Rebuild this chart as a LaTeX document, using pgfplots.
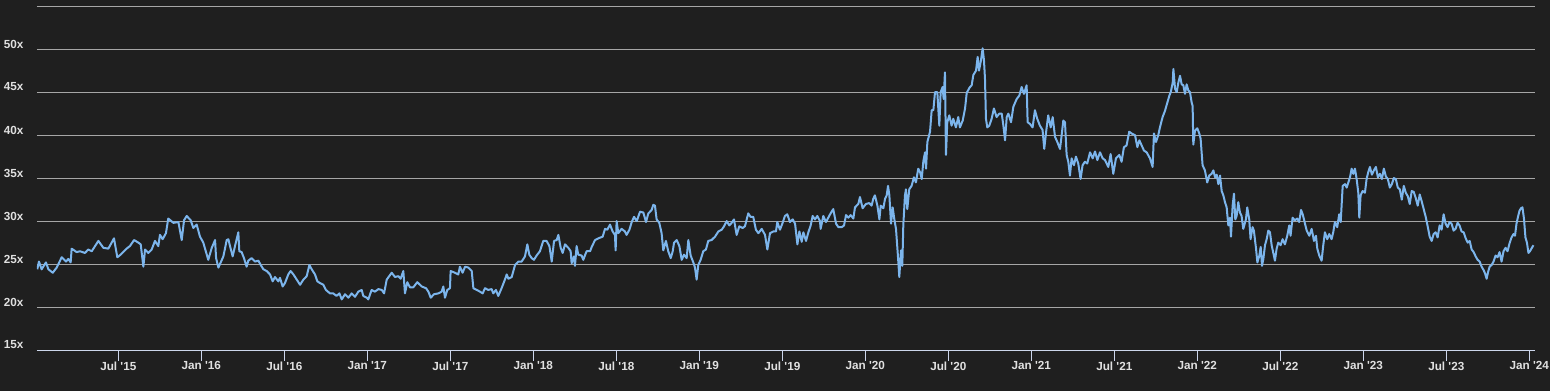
\documentclass[border=0pt]{standalone}
\usepackage{pgfplots}
\pgfplotsset{compat=1.18}
\usepackage{fontspec}
\setmainfont{Liberation Sans}
\definecolor{bg}{HTML}{1F1F1F}
\definecolor{gridc}{HTML}{A6A6A6}
\definecolor{axisc}{HTML}{CCD6EB}
\definecolor{linec}{HTML}{7CB5EC}
\definecolor{txt}{HTML}{E0E0E0}
\begin{document}
\begin{tikzpicture}
\fill[bg, use as bounding box] (-27.75pt,-30pt) rectangle (1134.75pt,263.25pt);
\begin{axis}[
  at={(0,0)}, anchor=south west, scale only axis,
  width=1123.5pt, height=258pt,
  xmin=0.0102, xmax=9.0343, ymin=15, ymax=55,
  axis x line*=bottom, axis y line*=left,
  x axis line style={draw=axisc, line width=0.75pt, -},
  y axis line style={draw=none},
  xtick={0.5,1,1.5,2,2.5,3,3.5,4,4.5,5,5.5,6,6.5,7,7.5,8,8.5,9},
  xticklabels={Jul \textquotesingle15,Jan \textquotesingle16,Jul \textquotesingle16,Jan \textquotesingle17,Jul \textquotesingle17,Jan \textquotesingle18,Jul \textquotesingle18,Jan \textquotesingle19,Jul \textquotesingle19,Jan \textquotesingle20,Jul \textquotesingle20,Jan \textquotesingle21,Jul \textquotesingle21,Jan \textquotesingle22,Jul \textquotesingle22,Jan \textquotesingle23,Jul \textquotesingle23,Jan \textquotesingle24},
  ytick={15,20,25,30,35,40,45,50,55},
  yticklabels={15x,20x,25x,30x,35x,40x,45x,50x,},
  ymajorgrids, grid style={gridc, line width=0.75pt},
  tick align=outside, major tick length=7.5pt,
  xtick style={draw=axisc, line width=0.75pt},
  ytick style={draw=none},
  tick label style={font=\bfseries\fontsize{8.8}{10}\selectfont, text=txt, inner sep=0pt},
  xticklabel style={anchor=north, yshift=-0.4pt},
  yticklabel style={anchor=west, xshift=-17.5pt, yshift=4.5pt},
]
\addplot[linec, line width=1.5pt, line join=round] coordinates {
(0.012,24.5) (0.022,25.4) (0.038,24.5) (0.064,25.3) (0.079,24.5) (0.105,24.1) (0.129,24.7) (0.159,25.9) (0.185,25.4) (0.199,25.7) (0.213,25.3) (0.219,26.9) (0.249,26.5) (0.269,26.6) (0.299,26.4) (0.319,26.8) (0.340,26.6) (0.380,27.8) (0.410,27.0) (0.440,26.9) (0.474,28.1) (0.494,25.9) (0.514,26.2) (0.550,26.9) (0.570,27.2) (0.595,27.9) (0.621,27.6) (0.635,27.4) (0.651,24.8) (0.661,26.8) (0.681,26.4) (0.701,26.8) (0.721,27.8) (0.741,27.2) (0.751,28.5) (0.767,28.0) (0.787,28.7) (0.801,30.4) (0.832,29.9) (0.862,30.0) (0.882,27.9) (0.896,30.2) (0.912,30.7) (0.936,30.2) (0.952,29.3) (0.972,29.7) (0.992,28.3) (1.012,27.6) (1.042,25.6) (1.063,27.0) (1.083,27.9) (1.089,25.8) (1.103,24.7)
(1.133,26.0) (1.153,27.9) (1.163,28.0) (1.173,27.2) (1.189,26.0) (1.203,27.2) (1.223,28.8) (1.229,26.6) (1.243,26.5) (1.257,25.8) (1.273,24.8) (1.283,25.5) (1.303,25.8) (1.324,25.4) (1.344,25.5) (1.358,25.0) (1.374,24.5) (1.394,24.3) (1.414,23.9) (1.430,23.1) (1.444,23.6) (1.464,23.1) (1.474,23.5) (1.490,22.5) (1.504,22.9) (1.524,23.9) (1.538,24.3) (1.555,23.9) (1.575,23.3) (1.595,22.7) (1.615,23.3) (1.635,23.7) (1.651,25.0) (1.665,24.5) (1.685,23.9) (1.699,23.1) (1.715,22.9) (1.735,22.7) (1.751,22.1) (1.775,21.7) (1.795,21.7) (1.815,21.4) (1.832,21.7) (1.846,21.0) (1.866,21.6) (1.886,21.2) (1.906,21.7) (1.926,21.3) (1.946,21.9) (1.966,22.1) (1.976,21.4) (1.996,21.2) (2.006,21.0) (2.026,22.1) (2.046,21.9) (2.067,22.2) (2.087,22.1) (2.101,21.7) (2.117,23.3) (2.147,24.1) (2.167,23.6) (2.187,23.7) (2.201,23.4) (2.217,24.3) (2.227,21.7) (2.241,23.0)
(2.257,22.4) (2.277,22.4) (2.301,23.0) (2.328,22.5) (2.354,22.3) (2.368,21.9) (2.382,21.2) (2.402,21.6) (2.428,21.7) (2.448,21.9) (2.458,22.5) (2.468,21.2) (2.482,22.1) (2.498,22.3) (2.502,24.3) (2.528,24.1) (2.548,23.9) (2.558,24.8) (2.574,24.1) (2.589,24.8) (2.609,24.7) (2.629,24.3) (2.639,22.3) (2.659,22.1) (2.679,21.9) (2.695,21.7) (2.709,22.3) (2.729,22.1) (2.749,22.2) (2.759,21.7) (2.775,22.1) (2.789,21.4) (2.809,22.3) (2.829,23.3) (2.840,23.9) (2.850,23.4) (2.870,23.6) (2.890,25.0) (2.910,25.4) (2.930,25.4) (2.950,26.0) (2.964,27.4) (2.976,26.2) (2.990,25.8) (3.004,25.6) (3.020,26.1) (3.040,26.6) (3.060,27.8) (3.080,27.8) (3.097,27.2) (3.111,25.4) (3.125,27.8) (3.141,27.9) (3.151,28.5) (3.165,27.0) (3.177,26.4) (3.191,27.4) (3.211,27.0) (3.225,26.6) (3.231,25.2) (3.245,26.0) (3.251,24.9) (3.261,27.2) (3.271,26.2) (3.291,26.1) (3.301,25.6) (3.321,26.6) (3.342,26.6) (3.352,27.1) (3.372,27.9) (3.392,28.1)
(3.418,28.3) (3.432,29.2) (3.446,29.1) (3.462,29.7) (3.478,28.9) (3.492,28.5) (3.496,26.7) (3.502,30.1) (3.512,28.7) (3.532,29.2) (3.552,28.9) (3.562,28.5) (3.579,29.1) (3.593,30.0) (3.607,30.6) (3.623,30.1) (3.643,31.2) (3.663,31.1) (3.679,30.0) (3.693,31.0) (3.713,31.4) (3.723,32.0) (3.733,31.9) (3.743,30.3) (3.759,29.9) (3.773,28.7) (3.783,26.7) (3.799,27.8) (3.813,26.6) (3.828,25.8) (3.840,26.6) (3.848,27.6) (3.864,27.9) (3.880,27.2) (3.894,25.6) (3.908,26.2) (3.924,25.8) (3.934,27.9) (3.948,26.1) (3.964,25.3) (3.974,24.7) (3.984,23.3) (3.994,25.0) (4.008,25.6) (4.024,26.6) (4.040,26.8) (4.054,27.8) (4.074,27.9) (4.095,28.3) (4.115,28.9) (4.135,29.1) (4.149,29.5) (4.165,30.1) (4.181,29.6) (4.195,29.9) (4.209,30.3) (4.225,28.5) (4.241,29.5) (4.261,29.3) (4.275,29.5) (4.295,31.0) (4.309,30.6) (4.325,30.6) (4.341,29.1) (4.356,28.7) (4.376,29.2) (4.396,28.5) (4.410,26.8) (4.426,28.7) (4.446,28.9) (4.462,28.9) (4.470,30.0) (4.486,29.1) (4.502,29.9) (4.516,30.7) (4.530,30.9)
(4.546,30.0) (4.563,30.3) (4.577,29.8) (4.591,27.4) (4.603,28.9) (4.617,27.7) (4.627,28.8) (4.643,27.8) (4.657,28.8) (4.671,29.6) (4.683,30.7) (4.697,30.3) (4.711,30.7) (4.727,30.1) (4.731,29.2) (4.747,30.7) (4.763,30.0) (4.777,30.5) (4.791,31.0) (4.807,31.5) (4.824,29.8) (4.838,29.4) (4.858,29.4) (4.872,29.6) (4.884,30.8) (4.898,30.5) (4.912,30.8) (4.928,30.4) (4.938,31.7) (4.958,32.1) (4.968,32.9) (4.984,31.6) (5.004,32.1) (5.024,32.2) (5.038,31.9) (5.048,32.7) (5.058,33.1) (5.073,31.9) (5.085,30.3) (5.093,31.9) (5.109,31.6) (5.119,32.7) (5.129,33.1) (5.137,34.2) (5.145,33.1) (5.155,29.8) (5.165,31.7) (5.175,30.3) (5.185,29.2) (5.195,26.5) (5.205,23.6) (5.215,26.7) (5.223,24.9) (5.229,29.6) (5.239,33.1) (5.245,33.8) (5.253,31.5) (5.265,33.8) (5.279,34.2) (5.293,35.2) (5.305,34.6) (5.319,36.2) (5.330,35.8) (5.340,35.0) (5.350,37.1) (5.360,38.1) (5.366,36.2) (5.374,39.3) (5.386,40.2)
(5.390,40.5) (5.400,43.0) (5.410,43.0) (5.420,45.1) (5.434,45.1) (5.446,41.2) (5.454,45.1) (5.466,45.7) (5.472,44.3) (5.480,47.4) (5.486,37.8) (5.494,41.6) (5.506,42.4) (5.520,41.2) (5.530,42.0) (5.546,41.0) (5.560,42.2) (5.570,41.0) (5.587,41.8) (5.601,43.2) (5.611,45.0) (5.627,45.6) (5.641,45.9) (5.651,47.1) (5.667,47.6) (5.677,49.2) (5.685,47.6) (5.697,48.8) (5.707,50.2) (5.715,48.8) (5.721,46.7) (5.727,42.0) (5.735,41.0) (5.747,41.2) (5.761,42.0) (5.775,43.2) (5.791,42.2) (5.807,42.6) (5.822,42.6) (5.832,41.2) (5.842,39.5) (5.852,42.2) (5.862,42.6) (5.878,41.6) (5.892,43.4) (5.912,44.3) (5.928,44.7) (5.942,45.7) (5.956,44.9) (5.972,45.9) (5.978,41.6) (5.992,41.4) (6.008,41.0) (6.022,43.0) (6.036,42.0) (6.052,41.2) (6.068,40.7) (6.078,38.5) (6.092,40.9) (6.102,42.4) (6.117,41.0) (6.129,42.2) (6.143,39.9) (6.157,39.3) (6.173,38.5) (6.183,40.1) (6.193,41.8) (6.203,41.6) (6.213,37.8) (6.223,37.0) (6.233,35.4) (6.243,37.4) (6.257,36.6) (6.269,37.6) (6.283,36.8) (6.297,35.0) (6.309,36.6) (6.323,37.0) (6.337,36.8) (6.354,38.1) (6.370,37.4) (6.384,38.2) (6.398,37.2) (6.414,38.1) (6.430,37.4) (6.444,37.2) (6.464,36.4) (6.478,37.9) (6.494,35.6) (6.510,37.4) (6.530,37.8) (6.544,37.0) (6.558,38.7) (6.574,38.9) (6.590,40.5) (6.604,40.3) (6.625,40.1) (6.639,38.7) (6.651,39.5) (6.665,38.9) (6.679,38.3) (6.695,38.1) (6.715,37.4)
(6.731,36.4) (6.739,40.3) (6.751,39.3) (6.765,40.1) (6.775,41.0) (6.791,42.2) (6.805,42.9) (6.820,43.9) (6.832,44.7) (6.840,45.1) (6.852,46.2)
(6.856,47.8) (6.866,45.5) (6.876,45.1) (6.886,46.2) (6.896,47.0) (6.906,46.0) (6.916,45.9) (6.926,44.9) (6.936,46.0) (6.946,45.3) (6.956,45.1) (6.966,43.9) (6.972,43.5) (6.976,39.0) (6.986,40.6) (7.000,40.9) (7.012,40.3) (7.020,39.7) (7.032,36.6) (7.046,36.0) (7.060,34.6) (7.072,35.4) (7.086,35.6) (7.097,36.0) (7.107,35.2) (7.117,35.5) (7.127,34.4) (7.137,35.4) (7.147,33.6) (7.157,33.1) (7.167,32.3) (7.177,31.7) (7.187,29.6) (7.197,30.5) (7.203,28.3) (7.213,31.9) (7.221,33.3) (7.229,30.3) (7.237,30.7) (7.247,32.3) (7.257,31.1) (7.267,30.7) (7.277,29.2) (7.293,30.3) (7.301,31.7) (7.313,30.3) (7.321,28.0) (7.333,29.4) (7.341,29.0) (7.354,26.9) (7.362,25.3) (7.374,26.1) (7.382,27.1) (7.390,24.9) (7.398,25.7) (7.408,27.3) (7.418,28.0) (7.428,29.0) (7.438,28.8) (7.448,27.3) (7.458,26.4) (7.468,25.5) (7.478,26.9) (7.488,27.6) (7.502,27.3) (7.514,28.0) (7.528,27.4) (7.542,28.4) (7.554,29.6) (7.562,28.4) (7.574,30.5) (7.588,30.2) (7.602,30.4) (7.614,30.0) (7.625,31.4) (7.635,30.9) (7.649,29.8) (7.659,29.0) (7.675,28.4) (7.689,29.2) (7.703,27.8) (7.715,28.4) (7.723,26.9) (7.735,26.1) (7.749,25.5) (7.759,27.3) (7.769,28.8) (7.783,28.0) (7.795,28.6) (7.809,28.0) (7.819,28.8) (7.829,30.0) (7.843,29.4) (7.855,30.9) (7.864,30.0) (7.876,34.2) (7.890,34.4) (7.900,34.0) (7.910,34.6) (7.920,35.2) (7.930,36.2) (7.940,35.6) (7.950,36.2) (7.960,35.0) (7.970,33.4) (7.976,30.5) (7.984,33.1) (7.996,33.6) (8.010,33.4) (8.020,35.0) (8.030,35.8) (8.040,36.4)
(8.052,35.5) (8.064,36.0) (8.076,36.4) (8.088,35.2) (8.100,35.6) (8.112,35.0) (8.124,36.2) (8.136,35.3) (8.148,35.0) (8.160,34.0) (8.172,34.4) (8.184,35.1) (8.196,35.0) (8.208,34.0) (8.220,33.8) (8.232,32.6) (8.244,34.2) (8.256,33.4) (8.268,33.0) (8.280,32.1) (8.292,33.6) (8.304,33.5) (8.316,32.8) (8.328,31.9) (8.340,33.2) (8.352,32.4) (8.364,31.5) (8.376,30.6) (8.388,29.5) (8.400,28.3) (8.412,27.8) (8.424,28.6) (8.436,28.8) (8.448,28.2) (8.460,29.6) (8.472,29.1) (8.484,30.9) (8.496,29.8) (8.508,29.4) (8.520,30.0) (8.532,29.8) (8.544,29.0) (8.556,29.2) (8.568,29.9) (8.580,29.6) (8.592,28.9) (8.605,28.8) (8.617,28.1) (8.629,27.6) (8.641,27.8) (8.653,26.8) (8.665,26.5) (8.677,26.0) (8.689,25.6) (8.701,25.4) (8.713,24.8) (8.725,24.4) (8.734,24.0) (8.743,23.4) (8.752,24.2) (8.761,24.8) (8.773,25.0) (8.785,25.4) (8.797,26.1) (8.809,25.9) (8.821,26.5) (8.833,25.4) (8.845,26.6) (8.857,27.0) (8.869,26.6) (8.881,27.5) (8.893,28.2) (8.905,28.6) (8.914,28.4) (8.923,29.8) (8.932,30.6) (8.941,31.3) (8.950,31.6) (8.959,31.7) (8.968,30.4) (8.977,28.2) (8.986,27.6) (8.995,26.4) (9.004,26.6) (9.013,26.9) (9.025,27.3)
};
\end{axis}
\end{tikzpicture}
\end{document}
